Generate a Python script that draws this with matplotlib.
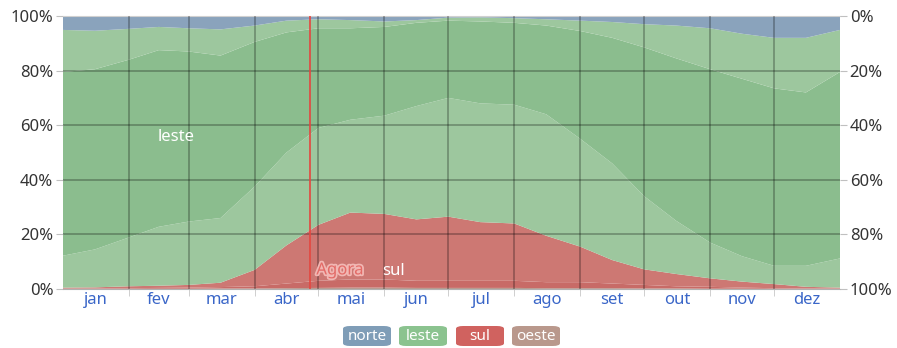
import matplotlib
matplotlib.use("Agg")
import matplotlib.pyplot as plt
from matplotlib.patches import FancyBboxPatch
import matplotlib.patheffects as pe

plt.rcParams['font.family'] = ['Noto Sans', 'DejaVu Sans']

# Day of year for each sample
days = [0, 15, 31, 45, 59, 74, 90, 105, 120, 135, 151, 166, 181, 196, 212,
        227, 243, 258, 273, 288, 304, 319, 334, 349, 365]

# Share of hours (%) per wind direction, stacked from the bottom up
oeste = [0.1, 0.1, 0.1, 0.1, 0.1, 0.2, 0.2, 0.3, 0.4, 0.5, 0.5, 0.4, 0.4, 0.4, 0.4,
         0.3, 0.3, 0.3, 0.2, 0.2, 0.1, 0.1, 0.1, 0.1, 0.1]
sul = [0.1, 0.1, 0.2, 0.3, 0.4, 0.5, 0.8, 1.7, 2.6, 3.0, 3.0, 2.6, 2.6, 2.6, 2.6,
       2.2, 2.2, 1.7, 1.3, 0.8, 0.7, 0.4, 0.2, 0.1, 0.1]
sul_sudeste = [0.3, 0.4, 0.7, 0.8, 1.0, 1.6, 6.0, 14.0, 20.5, 24.5, 24.0, 22.5, 23.5, 21.5, 21.0,
               17.0, 13.0, 8.6, 5.7, 4.5, 3.1, 2.2, 1.5, 0.6, 0.3]
leste_sudeste = [11.7, 13.9, 17.9, 21.6, 23.2, 23.7, 30.5, 34.0, 35.5, 34.0, 36.0, 41.5, 43.5, 43.5, 43.5,
                 44.5, 39.5, 35.4, 26.8, 19.5, 13.1, 9.3, 6.7, 7.7, 10.7]
leste = [67.3, 66.0, 65.1, 64.7, 62.3, 59.5, 53.0, 44.0, 36.5, 33.5, 32.5, 30.5, 28.3, 30.0, 30.0,
         32.5, 39.5, 46.0, 54.5, 59.5, 63.5, 65.0, 65.0, 63.5, 68.3]
leste_nordeste = [15.4, 14.1, 11.3, 8.5, 8.5, 9.6, 6.0, 4.3, 3.3, 3.0, 2.0, 1.0, 1.1, 1.5, 1.7,
                  2.3, 3.8, 5.8, 8.5, 12.0, 15.0, 16.5, 18.5, 20.0, 15.4]
norte = [5.1, 5.4, 4.7, 4.0, 4.5, 4.9, 3.5, 1.7, 1.2, 1.5, 2.0, 1.5, 0.6, 0.5, 0.8,
         1.2, 1.7, 2.2, 3.0, 3.5, 4.5, 6.5, 8.0, 8.0, 5.1]

month_labels = ['jan', 'fev', 'mar', 'abr', 'mai', 'jun', 'jul', 'ago', 'set', 'out', 'nov', 'dez']
month_starts = [0, 31, 59, 90, 120, 151, 181, 212, 243, 273, 304, 334, 365]
pct_ticks = [0, 20, 40, 60, 80, 100]
now_day = 116

layer_colors = ['#b89a8f', '#c86b67', '#cd7873', '#9dc79e', '#8bbd8e', '#9dc79e', '#8aa3bc']

fig = plt.figure(figsize=(8.97, 3.48), dpi=100)
ax = fig.add_axes([63 / 897, 1 - 289 / 348, (840 - 63) / 897, (289 - 16) / 348])

ax.stackplot(days, oeste, sul, sul_sudeste, leste_sudeste, leste, leste_nordeste, norte,
             colors=layer_colors, linewidth=0, edgecolor='none')

ax.set_xlim(0, 365)
ax.set_ylim(0, 100)

# Grid lines drawn over the areas
for d in month_starts[1:-1]:
    ax.axvline(d, color='black', alpha=0.28, lw=1.3, zorder=3)
for p in pct_ticks[1:-1]:
    ax.axhline(p, color='black', alpha=0.28, lw=1.3, zorder=3)

ax.axvline(now_day, color='#e5463f', lw=1.2, zorder=4)

for s in ['left', 'right']:
    ax.spines[s].set_visible(False)
ax.spines['top'].set_color('#d0d0d0')
ax.spines['bottom'].set_color('#b0b0b0')

ax.set_yticks(pct_ticks)
ax.set_yticklabels([f'{p}%' for p in pct_ticks])
ax.tick_params(axis='y', length=5, color='#c0c0c0', labelsize=12, labelcolor='#333333', pad=2)

centers = [(a + b) / 2 for a, b in zip(month_starts[:-1], month_starts[1:])]
ax.set_xticks(centers)
ax.set_xticklabels(month_labels)
ax.tick_params(axis='x', length=0, labelsize=12, labelcolor='#3a66c8', pad=2)
ax.set_xticks(month_starts[1:-1], minor=True)
ax.tick_params(axis='x', which='minor', length=5, color='#c8c8c8')

ax2 = ax.twinx()
ax2.set_ylim(100, 0)
ax2.set_yticks(pct_ticks)
ax2.set_yticklabels([f'{p}%' for p in pct_ticks])
ax2.tick_params(axis='y', length=5, color='#c0c0c0', labelsize=12, labelcolor='#333333', pad=2)
for s in ['left', 'right', 'top', 'bottom']:
    ax2.spines[s].set_visible(False)

# Series labels inside the areas
ax.text(53, 55.5, 'leste', color='white', fontsize=12, ha='center', va='center', zorder=5)
ax.text(155, 6.5, 'sul', color='white', fontsize=12, ha='center', va='center', zorder=5)
ax.text(119, 6.8, 'Agora', color='#e36a66', fontsize=12, ha='left', va='center', zorder=5,
        path_effects=[pe.withStroke(linewidth=2.5, foreground='#f1b7b3')])

# Legend chips
chips = [('norte', '#7f9db7', 343), ('leste', '#8bc38f', 399), ('sul', '#d0625f', 456),
         ('oeste', '#b9988c', 512)]
for name, col, x0 in chips:
    w, h, y0 = 48, 20, 348 - 347
    patch = FancyBboxPatch((x0 / 897, (y0 + 1) / 348), w / 897, h / 348,
                           boxstyle='round,pad=0,rounding_size=0.008',
                           transform=fig.transFigure, facecolor=col, edgecolor='none')
    fig.patches.append(patch)
    fig.text((x0 + w / 2) / 897, (y0 + 1 + h / 2) / 348, name, color='white', fontsize=11,
             ha='center', va='center')

fig.savefig('out.png', dpi=100)
